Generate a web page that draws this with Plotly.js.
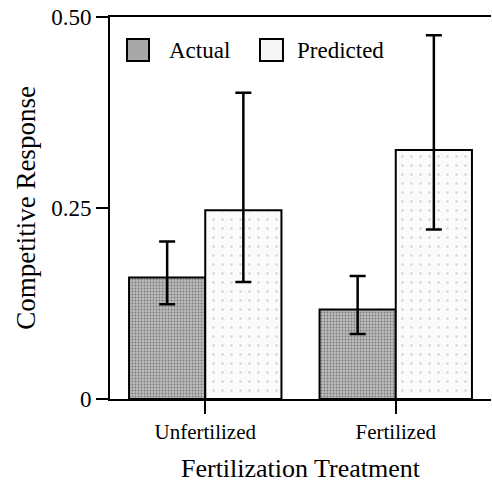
<!DOCTYPE html>
<html>
<head>
<meta charset="utf-8">
<script src="https://cdn.plot.ly/plotly-3.0.1.min.js"></script>
<style>html,body{margin:0;padding:0;background:#fff;}#chart{width:492px;height:484px;}</style>
</head>
<body>
<div id="chart"></div>
<script>
var categories = ["Unfertilized", "Fertilized"];
var actualValues = [0.159, 0.117];
var actualErrPlus = [0.047, 0.044];
var actualErrMinus = [0.035, 0.032];
var predictedValues = [0.247, 0.326];
var predictedErrPlus = [0.154, 0.150];
var predictedErrMinus = [0.094, 0.104];
var yTickVals = [0, 0.25, 0.5];
var yTickText = ["0", "0.25", "0.50"];
var seriesNames = ["Actual", "Predicted"];

var FONT = "Liberation Serif";

var traces = [
  {
    type: "bar", name: seriesNames[0], x: categories, y: actualValues,
    marker: {color: "#b4b4b4", line: {color: "#000", width: 2},
      pattern: {shape: ".", fgcolor: "#7a7a7a", bgcolor: "#bcbcbc", size: 3, solidity: 0.3}},
    error_y: {type: "data", symmetric: false, array: actualErrPlus, arrayminus: actualErrMinus,
      color: "#000", thickness: 2.5, width: 8},
    showlegend: false
  },
  {
    type: "bar", name: seriesNames[1], x: categories, y: predictedValues,
    marker: {color: "#f8f8f8", line: {color: "#000", width: 2},
      pattern: {shape: ".", fgcolor: "#d4d4d4", bgcolor: "#fbfbfb", size: 9, solidity: 0.06}},
    error_y: {type: "data", symmetric: false, array: predictedErrPlus, arrayminus: predictedErrMinus,
      color: "#000", thickness: 2.5, width: 8},
    showlegend: false
  }
];

var layout = {
  width: 492, height: 484,
  margin: {l: 110, r: 1, t: 17, b: 85},
  paper_bgcolor: "#fff", plot_bgcolor: "#fff",
  barmode: "group", bargap: 0.2, bargroupgap: 0,
  font: {family: FONT, color: "#000", size: 20},
  xaxis: {
    type: "category", range: [-0.5, 1.5],
    showline: true, linecolor: "#000", linewidth: 2, mirror: true,
    ticks: "outside", ticklen: 13, tickwidth: 2, tickcolor: "#000",
    showgrid: false, zeroline: false,
    tickfont: {family: FONT, size: 21, color: "#000"},
    title: {text: "Fertilization Treatment", font: {family: FONT, size: 26, color: "#000"}, standoff: 16},
    automargin: false
  },
  yaxis: {
    range: [0, 0.5],
    tickvals: yTickVals, ticktext: yTickText,
    showline: true, linecolor: "#000", linewidth: 2,
    ticks: "outside", ticklen: 12, tickwidth: 2, tickcolor: "#000",
    showgrid: false, zeroline: false,
    tickfont: {family: FONT, size: 23, color: "#000"},
    title: {text: "Competitive Response", font: {family: FONT, size: 27, color: "#000"}, standoff: 8},
    automargin: false
  },
  shapes: [
    {type: "rect", xref: "paper", yref: "paper", x0: 0.0446, x1: 0.1024, y0: 0.8848, y1: 0.9424,
      fillcolor: "#a8a8a8", line: {color: "#000", width: 2}},
    {type: "rect", xref: "paper", yref: "paper", x0: 0.3937, x1: 0.454, y0: 0.8848, y1: 0.9424,
      fillcolor: "#f6f6f6", line: {color: "#000", width: 2}}
  ],
  annotations: [
    {xref: "paper", yref: "paper", x: 0.1496, y: 0.9136, xanchor: "left", yanchor: "middle",
      text: seriesNames[0], showarrow: false, font: {family: FONT, size: 23, color: "#000"}},
    {xref: "paper", yref: "paper", x: 0.4856, y: 0.9136, xanchor: "left", yanchor: "middle",
      text: seriesNames[1], showarrow: false, font: {family: FONT, size: 23, color: "#000"}}
  ],
  showlegend: false
};

Plotly.newPlot("chart", traces, layout, {displayModeBar: false, staticPlot: true});
</script>
</body>
</html>
